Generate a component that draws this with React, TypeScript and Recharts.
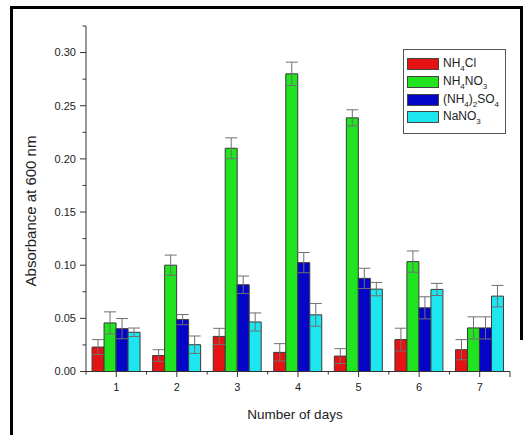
import React from 'react';
import { BarChart, Bar, XAxis, YAxis, ErrorBar } from 'recharts';

// sampling days
const days = ['1', '2', '3', '4', '5', '6', '7'];

// absorbance at 600 nm per nitrogen source, with standard deviation
const nh4cl = [0.023, 0.015, 0.033, 0.018, 0.0145, 0.03, 0.0205];
const nh4clErr = [0.007, 0.0055, 0.0076, 0.0082, 0.007, 0.0107, 0.0095];
const nh4no3 = [0.0457, 0.1, 0.21, 0.28, 0.2386, 0.1034, 0.041];
const nh4no3Err = [0.0104, 0.0095, 0.0098, 0.011, 0.0076, 0.01, 0.0104];
const nh4so4 = [0.0403, 0.0488, 0.0816, 0.1024, 0.0876, 0.0599, 0.041];
const nh4so4Err = [0.0095, 0.0048, 0.0082, 0.0095, 0.0095, 0.0104, 0.0104];
const nano3 = [0.0369, 0.0252, 0.0466, 0.0533, 0.0775, 0.0772, 0.0709];
const nano3Err = [0.004, 0.0082, 0.0085, 0.0107, 0.0063, 0.0057, 0.0101];

// y ticks every 0.025, labelled every 0.05
const yTicks = [0, 0.025, 0.05, 0.075, 0.1, 0.125, 0.15, 0.175, 0.2, 0.225, 0.25, 0.275, 0.3, 0.325];

// legend names: odd entries are subscripts
const series = [
  { key: 'nh4cl', parts: ['NH', '4', 'Cl'], color: '#e41414' },
  { key: 'nh4no3', parts: ['NH', '4', 'NO', '3'], color: '#1fe41f' },
  { key: 'nh4so4', parts: ['(NH', '4', ')', '2', 'SO', '4'], color: '#0505c8' },
  { key: 'nano3', parts: ['NaNO', '3'], color: '#1ee6f0' },
];

const rows = days.map((day, i) => ({
  day,
  nh4cl: nh4cl[i],
  nh4clErr: nh4clErr[i],
  nh4no3: nh4no3[i],
  nh4no3Err: nh4no3Err[i],
  nh4so4: nh4so4[i],
  nh4so4Err: nh4so4Err[i],
  nano3: nano3[i],
  nano3Err: nano3Err[i],
}));

const FONT = '"Liberation Sans", Arial, sans-serif';
const W = 529;
const H = 435;
const margin = { top: 26, right: 19, bottom: 13.5, left: 26 };
const Y_AXIS_W = 60;
const X_AXIS_H = 50;
const TICK_SIZE = 6;
const TICK_MARGIN = 3;
const plotW = W - margin.left - margin.right - Y_AXIS_W;
const band = plotW / days.length;
const axisColor = '#333';

function YTick(props: any) {
  const { x, y, payload } = props;
  const axisX = x + TICK_SIZE + TICK_MARGIN;
  const v = payload.value;
  const major = Math.abs(Math.round(v * 20) - v * 20) < 1e-6;
  return (
    <g>
      <line x1={axisX - (major ? 6 : 3.5)} x2={axisX} y1={y} y2={y} stroke={axisColor} strokeWidth={1} />
      {major && (
        <text x={axisX - 10} y={y} dy="0.35em" textAnchor="end" fontSize={11} fill="#222" fontFamily={FONT}>
          {v.toFixed(2)}
        </text>
      )}
    </g>
  );
}

function XTick(props: any) {
  const { x, y, payload, index } = props;
  const axisY = y - TICK_SIZE - TICK_MARGIN;
  const last = index === days.length - 1;
  return (
    <g>
      <line x1={x} x2={x} y1={axisY} y2={axisY + 5.5} stroke={axisColor} strokeWidth={1} />
      <line x1={x - band / 2} x2={x - band / 2} y1={axisY} y2={axisY + 3} stroke={axisColor} strokeWidth={1} />
      {last && (
        <line x1={x + band / 2} x2={x + band / 2} y1={axisY} y2={axisY + 5.5} stroke={axisColor} strokeWidth={1} />
      )}
      <text x={x} y={axisY + 19} textAnchor="middle" fontSize={11} fill="#222" fontFamily={FONT}>
        {payload.value}
      </text>
    </g>
  );
}

function LegendBox() {
  return (
    <div
      style={{
        position: 'absolute',
        left: 403,
        top: 49,
        width: 101,
        height: 83,
        border: '1px solid #555',
        background: '#fff',
        fontFamily: FONT,
        fontSize: 12,
        color: '#222',
      }}
    >
      {series.map((s, i) => (
        <div key={s.key} style={{ position: 'absolute', left: 3, top: 8 + i * 17.8, height: 12, display: 'flex', alignItems: 'center' }}>
          <div style={{ width: 30, height: 10, background: s.color, border: '1px solid #444' }} />
          <span style={{ marginLeft: 4, whiteSpace: 'nowrap', lineHeight: '12px' }}>
            {s.parts.map((p, j) =>
              j % 2 === 1 ? (
                <span key={j} style={{ fontSize: 8, position: 'relative', top: 4 }}>{p}</span>
              ) : (
                <span key={j}>{p}</span>
              )
            )}
          </span>
        </div>
      ))}
    </div>
  );
}

export default function App() {
  return (
    <div style={{ position: 'absolute', left: 0, top: 0, width: W, height: H, overflow: 'hidden', background: '#fff' }}>
      {/* figure frame: left and top run off the page, right stops partway */}
      <div style={{ position: 'absolute', left: 10, top: 6, width: 507, height: 440, borderLeft: '3px solid #000', borderTop: '3px solid #000' }} />
      <div style={{ position: 'absolute', left: 520, top: 6, width: 3, height: 334, background: '#000' }} />
      <BarChart
        width={W}
        height={H}
        data={rows}
        margin={margin}
        barCategoryGap="10%"
        barGap={0}
        style={{ position: 'absolute', left: 0, top: 0 }}
      >
        <XAxis
          dataKey="day"
          height={X_AXIS_H}
          interval={0}
          tickSize={TICK_SIZE}
          tickMargin={TICK_MARGIN}
          tickLine={false}
          tick={<XTick />}
          axisLine={{ stroke: axisColor }}
          label={{
            value: 'Number of days',
            position: 'insideBottom',
            offset: 3,
            dx: -3,
            style: { fontSize: 13.5, fill: '#222', fontFamily: FONT },
          }}
        />
        <YAxis
          width={Y_AXIS_W}
          domain={[0, 0.325]}
          ticks={yTicks}
          interval={0}
          allowDataOverflow
          tickSize={TICK_SIZE}
          tickMargin={TICK_MARGIN}
          tickLine={false}
          tick={<YTick />}
          axisLine={{ stroke: axisColor }}
          label={{
            content: () => (
              <text
                x={30}
                y={211}
                transform="rotate(-90, 30, 211)"
                textAnchor="middle"
                dominantBaseline="central"
                fontSize={15}
                fill="#222"
                fontFamily={FONT}
              >
                Absorbance at 600 nm
              </text>
            ),
          }}
        />
        {series.map((s) => (
          <Bar key={s.key} dataKey={s.key} fill={s.color} stroke="#3a3a3a" strokeWidth={1} isAnimationActive={false}>
            <ErrorBar dataKey={`${s.key}Err`} width={6} stroke="#707070" strokeWidth={1} isAnimationActive={false} />
          </Bar>
        ))}
      </BarChart>
      <LegendBox />
    </div>
  );
}
